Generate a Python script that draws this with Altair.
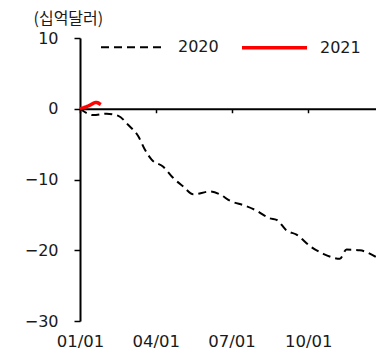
import altair as alt
import pandas as pd

# 2020 series (dashed black)
dates_2020 = ["01-01", "01-17", "02-02", "02-16", "02-28", "03-11", "03-19", "03-27",
              "04-10", "04-22", "05-04", "05-16", "06-05", "06-17", "06-29", "07-17",
              "07-31", "08-16", "08-24", "09-05", "09-17", "10-03", "10-19", "11-08",
              "11-16", "12-02", "12-22"]
values_2020 = [0.0, -0.9, -0.7, -1.0, -2.3, -3.9, -5.8, -7.2,
               -8.2, -9.8, -11.0, -12.1, -11.7, -12.1, -13.0, -13.7,
               -14.4, -15.5, -15.7, -17.2, -17.8, -19.4, -20.5, -21.2,
               -19.9, -20.0, -21.0]

# 2021 series (red)
dates_2021 = ["01-01", "01-13", "01-20", "01-26"]
values_2021 = [0.0, 0.5, 0.9, 0.6]

series = ["2020", "2021"]
colors = ["#000000", "#ff0000"]
dashes = [[8, 5], [1, 0]]
widths = [2.0, 3.5]

tick_dates = ["01-01", "04-01", "07-01", "10-01"]
y_ticks = [10, 0, -10, -20, -30]
y_min, y_max = -30, 10
y_title = "(십억달러)"

BASE = "2020"
rows = []
for d, v in zip(dates_2020, values_2020):
    rows.append({"date": f"{BASE}-{d}T00:00:00", "value": v, "year": "2020"})
for d, v in zip(dates_2021, values_2021):
    rows.append({"date": f"{BASE}-{d}T00:00:00", "value": v, "year": "2021"})
df = pd.DataFrame(rows)

W, H = 304, 283
FONT = "DejaVu Sans"
KFONT = "Noto Sans CJK KR"

def dt(md):
    m, d = md.split("-")
    return alt.DateTime(year=int(BASE), month=int(m), date=int(d))

x_scale = alt.Scale(domain=[dt("01-01"), dt("12-31")])
y_scale = alt.Scale(domain=[y_min, y_max], nice=False, zero=False)

zero_offset = -H * (0 - y_min) / (y_max - y_min)

y_axis = alt.Axis(values=y_ticks, grid=False, title=y_title,
                  titleAngle=0, titleAlign="left", titleBaseline="middle",
                  titleX=-47, titleY=-20, titleFontSize=16, titleFont=KFONT,
                  titleFontWeight="normal", titleColor="#1a1a1a",
                  labelFontSize=16, labelFont=FONT, labelColor="#1a1a1a",
                  labelPadding=16, tickSize=6, tickColor="black",
                  domainColor="black", domainWidth=2, tickWidth=1.5)

lines = alt.Chart(df).mark_line(interpolate="monotone").encode(
    x=alt.X("date:T", scale=x_scale,
            axis=alt.Axis(orient="bottom", format="%m/%d",
                          values=[dt(t) for t in tick_dates],
                          domain=False, ticks=False, grid=False, title=None,
                          labelPadding=12, labelFontSize=16.5, labelFont=FONT,
                          labelColor="#1a1a1a", labelFlush=False)),
    y=alt.Y("value:Q", scale=y_scale, axis=y_axis),
    color=alt.Color("year:N", scale=alt.Scale(domain=series, range=colors),
                    legend=alt.Legend(title=None, orient="none", legendX=20, legendY=-25,
                                      direction="horizontal", symbolType="stroke",
                                      symbolSize=4225, labelFontSize=16, labelFont=FONT,
                                      labelColor="#1a1a1a", labelOffset=11,
                                      columnPadding=16)),
    strokeDash=alt.StrokeDash("year:N", scale=alt.Scale(domain=series, range=dashes), legend=None),
    strokeWidth=alt.StrokeWidth("year:N", scale=alt.Scale(domain=series, range=widths), legend=None),
)

zero_axis = alt.Chart(df).mark_point(opacity=0).encode(
    x=alt.X("date:T", scale=x_scale,
            axis=alt.Axis(orient="bottom", offset=zero_offset, labels=False,
                          values=[dt(t) for t in tick_dates] + [dt("12-31")],
                          domain=True, domainColor="black", domainWidth=2,
                          ticks=True, tickSize=4, tickColor="black", tickWidth=1.5,
                          grid=False, title=None)),
    y=alt.Y("value:Q", scale=y_scale, axis=y_axis),
)

chart = alt.layer(zero_axis, lines).resolve_axis(x="independent").properties(
    width=W, height=H,
    autosize=alt.AutoSizeParams(type="none"),
    padding={"left": 72, "top": 30, "right": -8, "bottom": 28},
).configure_view(stroke=None)

chart.save("out.html", embed_options={"renderer": "svg", "actions": False})
